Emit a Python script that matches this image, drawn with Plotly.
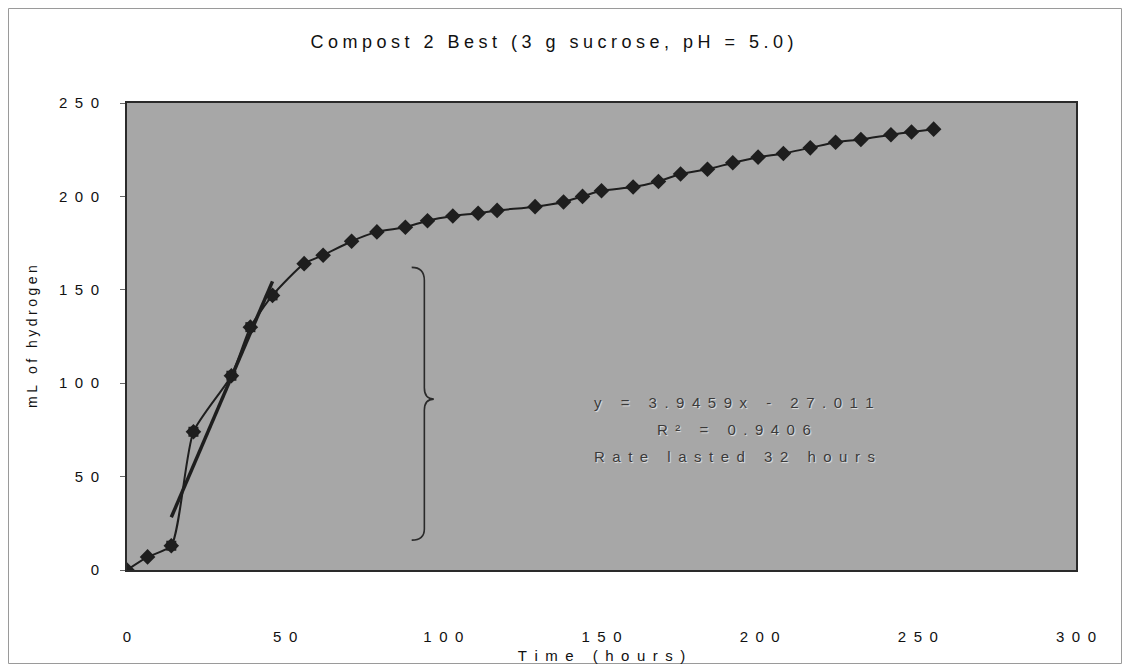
import plotly.graph_objects as go

# ---- data ----
time_h = [0, 6.5, 14, 21, 33, 39, 46, 56, 62, 71, 79, 88, 95, 103, 111, 117,
          129, 138, 144, 150, 160, 168, 175, 183.5, 191.5, 199.5, 207.5, 216, 224,
          232, 241.5, 248, 255]
hydrogen_ml = [0, 7, 13, 74, 104, 130, 147, 164, 168.5, 176, 181, 183.5, 187, 189.5,
               191, 192.5, 194.5, 197, 200, 203, 205, 208, 212, 214.5, 218, 221, 223,
               226, 229, 230.5, 233, 234.5, 236]

rate_time_h = [14, 21, 33, 39, 46]
rate_hydrogen_ml = [13, 74, 104, 130, 147]

slope = 3.9459
intercept = -27.011
r_squared = 0.9406
rate_hours = 32

x_ticks = [0, 50, 100, 150, 200, 250, 300]
y_ticks = [0, 50, 100, 150, 200, 250]

title_text = "Compost 2 Best (3 g sucrose, pH = 5.0)"
x_title = "Time (hours)"
y_title = "mL of hydrogen"

# brace annotation extent
brace_x = 94
brace_top = 162
brace_bottom = 16


def spaced(s, sep="\u2004"):
    return sep.join(list(s))


FONT = "Liberation Sans, Arial, DejaVu Sans, sans-serif"
DARK = "#1e1e1e"
TEXT = "#111111"

W, H = 1114, 656
ML, MR, MT, MB = 119, 46, 95, 94
PW, PH = W - ML - MR, H - MT - MB

trend_x = [min(rate_time_h), max(rate_time_h)]
trend_y = [slope * v + intercept for v in trend_x]

fig = go.Figure()

fig.add_trace(go.Scatter(
    x=time_h, y=hydrogen_ml, mode="lines+markers",
    line=dict(color=DARK, width=2, shape="spline", smoothing=0.6),
    marker=dict(symbol="diamond", size=12, color=DARK),
    showlegend=False, hoverinfo="skip"))

fig.add_trace(go.Scatter(
    x=rate_time_h, y=rate_hydrogen_ml, mode="markers",
    marker=dict(symbol="square", size=10, color=DARK),
    showlegend=False, hoverinfo="skip"))

fig.add_trace(go.Scatter(
    x=trend_x, y=trend_y, mode="lines",
    line=dict(color=DARK, width=3.5),
    showlegend=False, hoverinfo="skip"))

# curly brace
mid = (brace_top + brace_bottom) / 2 + 2.5
bx = brace_x
path = (f"M {bx-4},{brace_top} Q {bx},{brace_top} {bx},{brace_top-7} "
        f"L {bx},{mid+6} Q {bx},{mid} {bx+3},{mid} "
        f"Q {bx},{mid} {bx},{mid-6} "
        f"L {bx},{brace_bottom+6} Q {bx},{brace_bottom} {bx-4},{brace_bottom}")
fig.add_shape(type="path", path=path, xref="x", yref="y",
              line=dict(color="#2a2a2a", width=1.6))

# outer frame along the figure edge
fig.add_shape(type="rect", xref="paper", yref="paper",
              x0=-(ML - 0.5) / PW, x1=1 + (MR - 0.5) / PW,
              y0=-(MB - 0.5) / PH, y1=1 + (MT - 0.5) / PH,
              line=dict(color="#9a9a9a", width=1), layer="below")

ann_font = dict(family=FONT, size=15, color="#3a3a3a",
                shadow="1px 1px 1px #e6e6e6")
lines = [f"y = {slope}x - {abs(intercept)}",
         f"R² = {r_squared}",
         f"Rate lasted {rate_hours} hours"]
for i, txt in enumerate(lines):
    fig.add_annotation(x=192, y=89.5 - i * 14.5, xref="x", yref="y",
                       text=spaced(txt, "\u2002"), showarrow=False,
                       font=ann_font, xanchor="center", yanchor="middle")

fig.update_layout(
    width=W, height=H,
    paper_bgcolor="white", plot_bgcolor="#a7a7a7",
    margin=dict(l=ML, r=MR, t=MT, b=MB, autoexpand=False),
    font=dict(family=FONT, color=TEXT),
    title=dict(text=spaced(title_text, "\u2005"), x=544 / W, xref="container",
               xanchor="center", y=1 - 34 / H, yanchor="middle",
               font=dict(size=18, color=TEXT)),
    xaxis=dict(range=[0, 300], tickvals=x_ticks,
               ticktext=[spaced(str(v), "\u2002") for v in x_ticks],
               tickfont=dict(size=15, color=TEXT), showgrid=False, zeroline=False,
               showline=True, linecolor="#2a2a2a", linewidth=2, mirror=True,
               ticks="", ticklabelstandoff=52,
               title=dict(text=spaced(x_title, "\u2002"),
                          font=dict(size=15, color=TEXT), standoff=16)),
    yaxis=dict(range=[0, 250], tickvals=y_ticks,
               ticktext=[spaced(str(v), "\u2002") for v in y_ticks],
               tickfont=dict(size=15, color=TEXT), showgrid=False, zeroline=False,
               showline=True, linecolor="#2a2a2a", linewidth=2, mirror=True,
               ticks="outside", ticklen=5, tickcolor="#666666",
               ticklabelstandoff=18,
               title=dict(text=spaced(y_title, "\u2005"),
                          font=dict(size=14, color=TEXT), standoff=18)),
)

fig.write_html("out.html")
